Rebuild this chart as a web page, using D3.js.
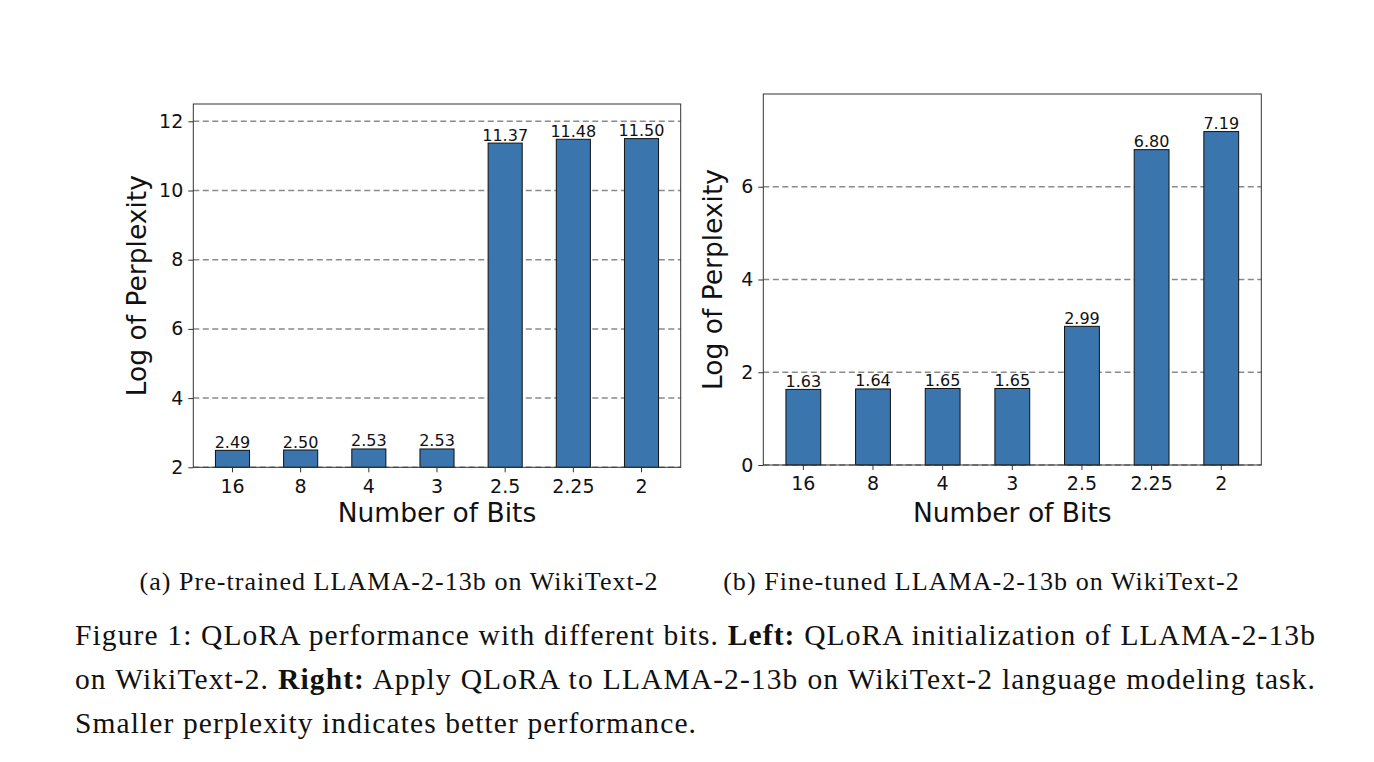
<!DOCTYPE html>
<html>
<head>
<meta charset="utf-8">
<script src="https://cdn.jsdelivr.net/npm/d3@7"></script>
<style>
  html, body { margin: 0; padding: 0; background: #fff; }
  svg { display: block; }
</style>
</head>
<body>
<svg id="fig" width="1374" height="762"></svg>
<script>
// bit widths on the x axis, same for both panels
const bits = ["16", "8", "4", "3", "2.5", "2.25", "2"];
// log perplexity, pre-trained LLAMA-2-13b (left)
const pretrainedPpl = [2.49, 2.50, 2.53, 2.53, 11.37, 11.48, 11.50];
// log perplexity, fine-tuned LLAMA-2-13b (right)
const finetunedPpl = [1.63, 1.64, 1.65, 1.65, 2.99, 6.80, 7.19];
const leftTicks = [2, 4, 6, 8, 10, 12];
const rightTicks = [0, 2, 4, 6];
const subCaptions = [
  "(a) Pre-trained LLAMA-2-13b on WikiText-2",
  "(b) Fine-tuned LLAMA-2-13b on WikiText-2",
];
// caption lines, [text, bold] pieces
const captionLines = [
  [["Figure 1: QLoRA performance with different bits. ", false], ["Left:", true], [" QLoRA initialization of LLAMA-2-13b", false]],
  [["on WikiText-2. ", false], ["Right:", true], [" Apply QLoRA to LLAMA-2-13b on WikiText-2 language modeling task.", false]],
  [["Smaller perplexity indicates better performance.", false]],
];

const BAR = "#3a75ae";
const SANS = "'DejaVu Sans', sans-serif";
const SERIF = "'Liberation Serif', 'DejaVu Serif', serif";

const svg = d3.select("svg#fig");

function drawPanel(values, ticks, yDomain, box, labelX) {
  const g = svg.append("g");

  const x = d3.scaleBand()
    .domain(bits)
    .range([box.left, box.right])
    .paddingInner(0.5)
    .paddingOuter(0.325);
  const y = d3.scaleLinear().domain(yDomain).range([box.bottom, box.top]);

  // grid behind bars
  g.append("g")
    .selectAll("line")
    .data(ticks)
    .join("line")
    .attr("x1", box.left)
    .attr("x2", box.right)
    .attr("y1", (d) => y(d))
    .attr("y2", (d) => y(d))
    .attr("stroke", "#8a8a8a")
    .attr("stroke-width", 1.5)
    .attr("stroke-dasharray", "6,3.5");

  g.append("g")
    .selectAll("rect")
    .data(values)
    .join("rect")
    .attr("x", (_d, i) => x(bits[i]))
    .attr("y", (d) => y(d))
    .attr("width", x.bandwidth())
    .attr("height", (d) => y(yDomain[0]) - y(d))
    .attr("fill", BAR)
    .attr("stroke", "#111")
    .attr("stroke-width", 1);

  g.append("g")
    .selectAll("text")
    .data(values)
    .join("text")
    .attr("x", (_d, i) => x(bits[i]) + x.bandwidth() / 2)
    .attr("y", (d) => y(d) - 2.5)
    .attr("text-anchor", "middle")
    .attr("font-family", SANS)
    .attr("font-size", 16)
    .attr("fill", "#111")
    .text((d) => d.toFixed(2));

  // frame
  g.append("rect")
    .attr("x", box.left)
    .attr("y", box.top)
    .attr("width", box.right - box.left)
    .attr("height", box.bottom - box.top)
    .attr("fill", "none")
    .attr("stroke", "#333")
    .attr("stroke-width", 1);

  const xAxis = g.append("g")
    .attr("transform", `translate(0, ${box.bottom})`)
    .call(d3.axisBottom(x).tickSize(5).tickPadding(7).tickSizeOuter(0));
  const yAxis = g.append("g")
    .attr("transform", `translate(${box.left}, 0)`)
    .call(d3.axisLeft(y).tickValues(ticks).tickFormat(d3.format("d")).tickSize(5).tickPadding(5).tickSizeOuter(0));

  for (const ax of [xAxis, yAxis]) {
    ax.select(".domain").remove();
    ax.selectAll("line").attr("stroke", "#333");
    ax.selectAll("text")
      .attr("font-family", SANS)
      .attr("font-size", 19)
      .attr("fill", "#111");
  }

  g.append("text")
    .attr("x", (box.left + box.right) / 2)
    .attr("y", 521.5)
    .attr("text-anchor", "middle")
    .attr("font-family", SANS)
    .attr("font-size", 26.5)
    .attr("fill", "#111")
    .text("Number of Bits");

  g.append("text")
    .attr("transform", `translate(${labelX}, ${(box.top + box.bottom) / 2}) rotate(-90)`)
    .attr("text-anchor", "middle")
    .attr("font-family", SANS)
    .attr("font-size", 26.5)
    .attr("fill", "#111")
    .text("Log of Perplexity");
}

drawPanel(pretrainedPpl, leftTicks, [2, 12.5], { left: 193.3, right: 680.7, top: 104, bottom: 467.3 }, 145.5);
drawPanel(finetunedPpl, rightTicks, [0, 8], { left: 763.3, right: 1261.3, top: 94, bottom: 465 }, 722);

// sub captions
svg.append("g")
  .selectAll("text")
  .data(subCaptions)
  .join("text")
  .attr("x", (_d, i) => [399, 981.5][i])
  .attr("y", 590)
  .attr("text-anchor", "middle")
  .attr("font-family", SERIF)
  .attr("font-size", 26)
  .attr("letter-spacing", 1.05)
  .attr("fill", "#111")
  .text((d) => d);

// main caption, first two lines justified
const capLeft = 75, capRight = 1316;
captionLines.forEach((line, li) => {
  const t = svg.append("text")
    .attr("x", capLeft)
    .attr("y", 645 + li * 44)
    .attr("font-family", SERIF)
    .attr("font-size", 29.5)
    .attr("letter-spacing", 1.1)
    .attr("fill", "#111");
  for (const [s, bold] of line) {
    t.append("tspan").attr("font-weight", bold ? "bold" : null).text(s);
  }
  if (li < 2) {
    const w = t.node().getComputedTextLength();
    const spaces = line.map((p) => p[0]).join("").split(" ").length - 1;
    t.attr("word-spacing", (capRight - capLeft - w) / spaces);
  }
});
</script>
</body>
</html>
